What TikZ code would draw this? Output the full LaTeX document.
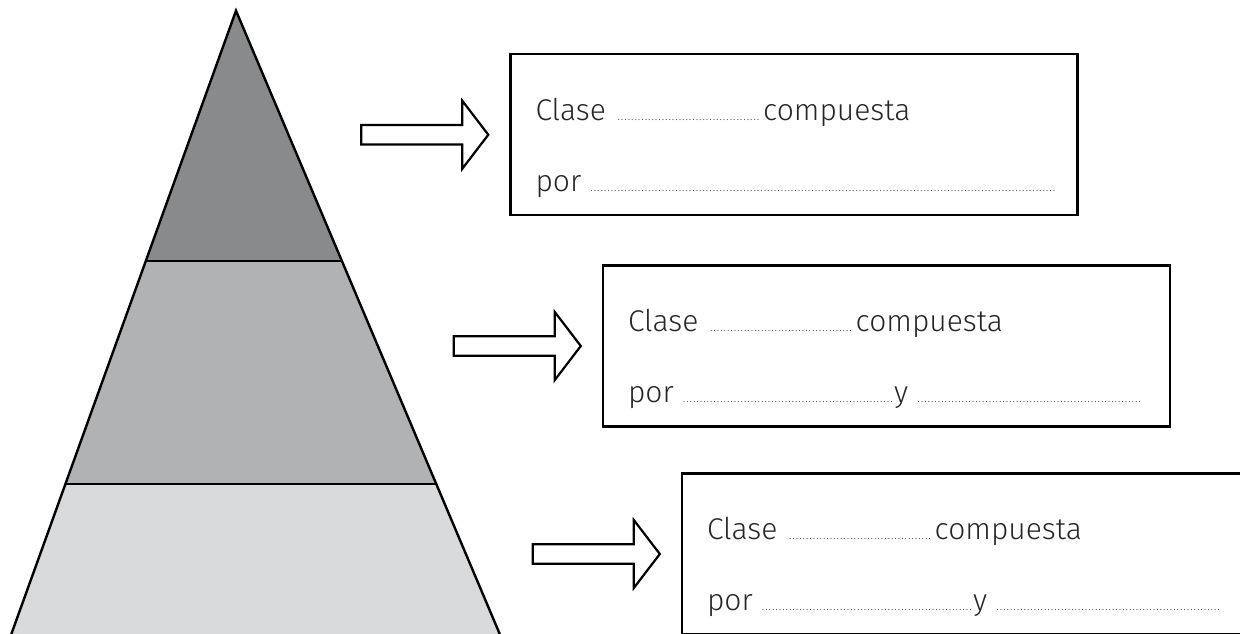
\documentclass[tikz,border=0pt]{standalone}
\usepackage{fontspec}
\setmainfont{Fira Sans Light}
\usetikzlibrary{positioning,calc}

\definecolor{tierdark}{RGB}{137,138,140}
\definecolor{tiermid}{RGB}{177,178,180}
\definecolor{tierlight}{RGB}{217,218,220}

\newcommand{\dotline}[1]{{\color{black!75}\leaders\hbox to 3.4pt{\hss\fontsize{12}{12}\selectfont.\hss}\hskip #1\relax}\kern0pt}

\begin{document}
\begin{tikzpicture}[x=1pt,y=-1pt,
  tier1/.style={fill=tierdark},
  tier2/.style={fill=tiermid},
  tier3/.style={fill=tierlight},
  answer box/.style={draw,line width=2.4pt,minimum width=567pt,minimum height=161pt,inner sep=0pt},
  line text/.style={anchor=base west,inner sep=0pt,font=\fontsize{30}{36}\selectfont,text=black!85},
  block arrow/.style={draw,line width=2.2pt,fill=white,line join=miter}]
  \useasboundingbox (0,0) rectangle (1240,633);
  \clip (0,0) rectangle (1240,633);
  % pyramid
  \coordinate (apex) at (236,10.7);
  \coordinate (bl) at (7.4,645);
  \coordinate (br) at (504.4,645);
  \coordinate (l1) at ($(apex)!0.3946!(bl)$);
  \coordinate (r1) at ($(apex)!0.3946!(br)$);
  \coordinate (l2) at ($(apex)!0.7462!(bl)$);
  \coordinate (r2) at ($(apex)!0.7462!(br)$);
  \fill[tier3] (apex) -- (bl) -- (br) -- cycle;
  \fill[tier2] (apex) -- (l2) -- (r2) -- cycle;
  \fill[tier1] (apex) -- (l1) -- (r1) -- cycle;
  \draw[line width=2pt] (l1) -- (r1) (l2) -- (r2);
  \draw[line width=2.4pt,line join=miter] (bl) -- (apex) -- (br);
  % boxes
  \node[answer box] (box1) at (794,134.75) {};
  \node[answer box] (box2) at (886.5,346) {};
  \node[answer box] (box3) at (965.5,554) {};
  \node[line text] (clase1) at ([shift={(26,67.5)}]box1.north west) {Clase \dotline{149pt}compuesta};
  \node[line text] (por1) at ([shift={(26,138.5)}]box1.north west) {por \dotline{467pt}};
  \node[line text] (clase2) at ([shift={(26,67.5)}]box2.north west) {Clase \dotline{149pt}compuesta};
  \node[line text] (por2) at ([shift={(26,138.5)}]box2.north west) {por \dotline{212pt} y \dotline{226pt}};
  \node[line text] (clase3) at ([shift={(26,67.5)}]box3.north west) {Clase \dotline{149pt}compuesta};
  \node[line text] (por3) at ([shift={(26,138.5)}]box3.north west) {por \dotline{212pt} y \dotline{226pt}};
  % arrows
  \coordinate[left=21pt of box1.west] (tip1);
  \coordinate[left=21pt of box2.west] (tip2);
  \coordinate[left=21pt of box3.west] (tip3);
  \draw[block arrow] (tip1) -- ++(-26,-34) -- ++(0,24.25) -- ++(-101,0) -- ++(0,19.5) -- ++(101,0) -- ++(0,24.25) -- cycle;
  \draw[block arrow] (tip2) -- ++(-26,-34) -- ++(0,24.25) -- ++(-101,0) -- ++(0,19.5) -- ++(101,0) -- ++(0,24.25) -- cycle;
  \draw[block arrow] (tip3) -- ++(-26,-34) -- ++(0,24.25) -- ++(-101,0) -- ++(0,19.5) -- ++(101,0) -- ++(0,24.25) -- cycle;
\end{tikzpicture}
\end{document}
